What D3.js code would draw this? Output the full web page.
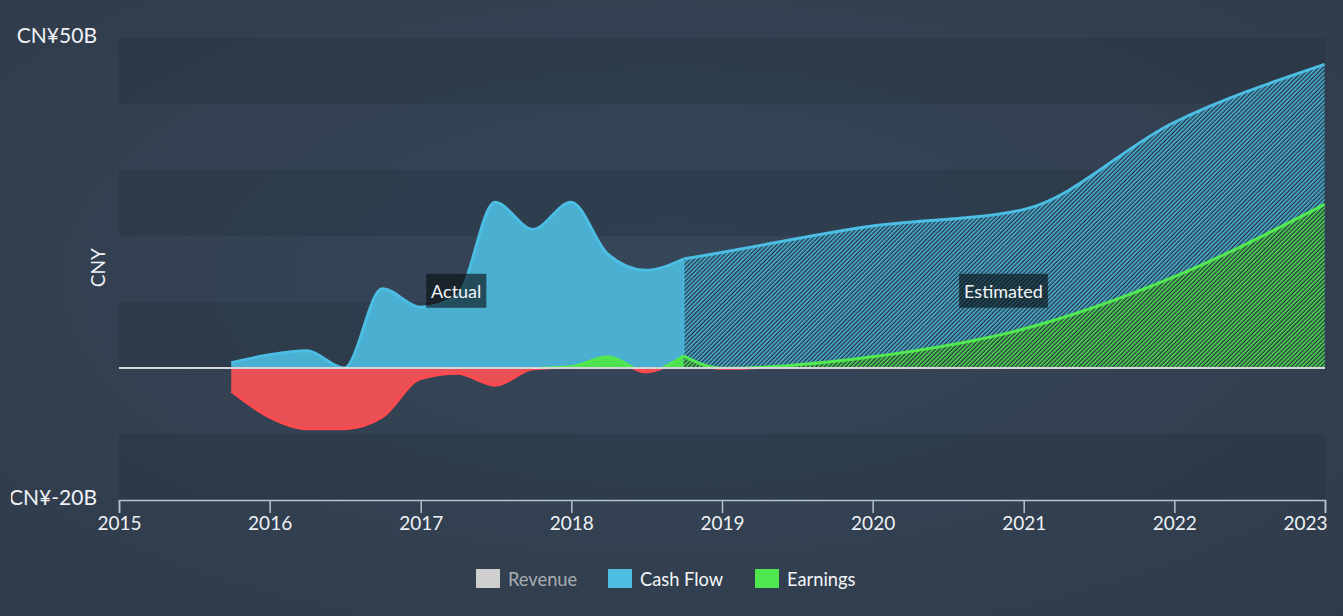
<!DOCTYPE html>
<html>
<head>
<meta charset="utf-8">
<script src="https://cdn.jsdelivr.net/npm/d3@7"></script>
<style>
  html, body { margin: 0; padding: 0; background: #333f4f; }
  svg { display: block; font-family: "Lato", "DejaVu Sans", sans-serif; }
</style>
</head>
<body>
<div id="chartDiv"></div>
<script>
// quarterly actuals (CNY billions)
const actualDates = ["2015-09-30", "2015-12-31", "2016-03-31", "2016-06-30", "2016-09-30", "2016-12-31",
                     "2017-03-31", "2017-06-30", "2017-09-30", "2017-12-31", "2018-03-31", "2018-06-30", "2018-09-30"];
const cashFlowActual = [0.8, 2.0, 2.6, 0.0, 12.0, 9.2, 11.0, 25.1, 21.0, 25.1, 17.2, 14.8, 16.5];
const earningsActual = [-3.5, -7.4, -9.2, -9.2, -7.4, -1.6, -0.8, -2.6, -0.1, 0.2, 1.7, -0.6, 1.8];

// analyst estimates
const estimateDates = ["2018-09-30", "2018-12-31", "2019-12-31", "2020-12-31", "2021-12-31", "2022-12-31"];
const cashFlowEstimate = [16.5, 17.5, 21.5, 24.0, 37.2, 46.0];
const earningsEstimate = [1.8, -0.05, 1.7, 5.9, 13.8, 24.8];

const yearTicks = [2015, 2016, 2017, 2018, 2019, 2020, 2021, 2022, 2023];
const yTickValues = [50, -20];
const legendNames = ["Revenue", "Cash Flow", "Earnings"];
const legendColors = ["#cfcfcf", "#4dbde2", "#50e650"];

const chartWidth = 1343, chartHeight = 616;
const plotLeft = 119, plotRight = 1325, plotTop = 38, plotBottom = 500;

const parseDate = d3.timeParse("%Y-%m-%d");

let svg = d3.select("#chartDiv").append("svg")
    .attr("width", chartWidth)
    .attr("height", chartHeight);

let defs = svg.append("defs");

// background with a soft vignette
let bg = defs.append("radialGradient").attr("id", "bgGrad")
    .attr("cx", "50%").attr("cy", "45%").attr("r", "75%");
bg.append("stop").attr("offset", "0%").attr("stop-color", "#36475a");
bg.append("stop").attr("offset", "100%").attr("stop-color", "#303b4a");
svg.append("rect").attr("width", chartWidth).attr("height", chartHeight).attr("fill", "url(#bgGrad)");

function hatch(id, color) {
    let p = defs.append("pattern").attr("id", id)
        .attr("patternUnits", "userSpaceOnUse")
        .attr("width", 3).attr("height", 3)
        .attr("patternTransform", "rotate(45)");
    p.append("rect").attr("width", 3).attr("height", 3).attr("fill", "#283442");
    p.append("rect").attr("width", 1.6).attr("height", 3).attr("fill", color);
}
hatch("hatchBlue", "#4ab6da");
hatch("hatchGreen", "#4fe04f");
hatch("hatchRed", "#e85055");

let xScale = d3.scaleTime()
    .domain([new Date(2015, 0, 1), new Date(2023, 0, 1)])
    .range([plotLeft, plotRight]);

let yScale = d3.scaleLinear()
    .domain([-20, 50])
    .range([plotBottom, plotTop]);

let zeroY = yScale(0);

// horizontal bands every 10B
let bands = d3.range(-20, 50, 10);
svg.append("g").selectAll("rect")
    .data(bands)
    .enter().append("rect")
    .attr("x", plotLeft)
    .attr("width", plotRight - plotLeft)
    .attr("y", d => yScale(d + 10))
    .attr("height", d => yScale(d) - yScale(d + 10))
    .attr("fill", (d, i) => i % 2 == 0 ? "rgba(20,28,40,0.16)" : "rgba(0,0,0,0)");

let actual = actualDates.map((d, i) => ({date: parseDate(d), cash: cashFlowActual[i], earn: earningsActual[i]}));
let estimate = estimateDates.map((d, i) => ({date: parseDate(d), cash: cashFlowEstimate[i], earn: earningsEstimate[i]}));

let splitX = xScale(parseDate(estimateDates[0]));

// clip paths: above / below zero
defs.append("clipPath").attr("id", "clipPos")
    .append("rect").attr("x", 0).attr("y", 0).attr("width", chartWidth).attr("height", zeroY);
defs.append("clipPath").attr("id", "clipNeg")
    .append("rect").attr("x", 0).attr("y", zeroY).attr("width", chartWidth).attr("height", chartHeight - zeroY);

// earnings stroke gradient switching colour at zero
let eg = defs.append("linearGradient").attr("id", "earnStroke")
    .attr("gradientUnits", "userSpaceOnUse")
    .attr("x1", 0).attr("x2", 0).attr("y1", 0).attr("y2", chartHeight);
eg.append("stop").attr("offset", zeroY / chartHeight).attr("stop-color", "#52e852");
eg.append("stop").attr("offset", zeroY / chartHeight).attr("stop-color", "#ff4b50");

let cashArea = d3.area()
    .curve(d3.curveMonotoneX)
    .x(d => xScale(d.date))
    .y0(zeroY)
    .y1(d => yScale(d.cash));
let cashLine = d3.line()
    .curve(d3.curveMonotoneX)
    .x(d => xScale(d.date))
    .y(d => yScale(d.cash));
let earnArea = d3.area()
    .curve(d3.curveMonotoneX)
    .x(d => xScale(d.date))
    .y0(zeroY)
    .y1(d => yScale(d.earn));
let earnLine = d3.line()
    .curve(d3.curveMonotoneX)
    .x(d => xScale(d.date))
    .y(d => yScale(d.earn));

let plot = svg.append("g");

// cash flow
plot.append("path").datum(actual).attr("d", cashArea).attr("fill", "#4aafd1");
plot.append("path").datum(estimate).attr("d", cashArea).attr("fill", "url(#hatchBlue)");
plot.append("line")
    .attr("x1", splitX).attr("x2", splitX)
    .attr("y1", zeroY).attr("y2", yScale(cashFlowEstimate[0]))
    .attr("stroke", "#4ab8de").attr("stroke-width", 1.5);
plot.append("path").datum(actual).attr("d", cashLine)
    .attr("fill", "none").attr("stroke", "#4cbde3").attr("stroke-width", 3);
plot.append("path").datum(estimate).attr("d", cashLine)
    .attr("fill", "none").attr("stroke", "#4cbde3").attr("stroke-width", 3);

// earnings
plot.append("path").datum(actual).attr("d", earnArea)
    .attr("clip-path", "url(#clipPos)").attr("fill", "#4fe04f");
plot.append("path").datum(actual).attr("d", earnArea)
    .attr("clip-path", "url(#clipNeg)").attr("fill", "#e85055");
plot.append("path").datum(estimate).attr("d", earnArea)
    .attr("clip-path", "url(#clipPos)").attr("fill", "url(#hatchGreen)");
plot.append("path").datum(estimate).attr("d", earnArea)
    .attr("clip-path", "url(#clipNeg)").attr("fill", "url(#hatchRed)");
plot.append("path").datum(actual).attr("d", earnLine)
    .attr("fill", "none").attr("stroke", "url(#earnStroke)").attr("stroke-width", 3);
plot.append("path").datum(estimate).attr("d", earnLine)
    .attr("fill", "none").attr("stroke", "url(#earnStroke)").attr("stroke-width", 3);

// zero line
svg.append("line")
    .attr("x1", plotLeft).attr("x2", plotRight)
    .attr("y1", zeroY).attr("y2", zeroY)
    .attr("stroke", "#d4d6d9").attr("stroke-width", 2);

// x axis
let xAxis = d3.axisBottom(xScale)
    .tickValues(yearTicks.map(y => new Date(y, 0, 1)))
    .tickFormat(d3.timeFormat("%Y"))
    .tickSize(13)
    .tickPadding(4);
let xg = svg.append("g")
    .attr("transform", "translate(0," + plotBottom + ")")
    .call(xAxis);
xg.select(".domain").attr("stroke", "#b4c3d1").attr("stroke-width", 1.5);
xg.selectAll(".tick line").attr("stroke", "#b4c3d1").attr("stroke-width", 1.5);
xg.selectAll(".tick text")
    .attr("fill", "#eef2f6")
    .attr("font-size", 19)
    .attr("font-family", "Lato, sans-serif");
// keep the last year inside the picture
xg.selectAll(".tick text")
    .filter((d, i, n) => i == n.length - 1)
    .attr("text-anchor", "end")
    .attr("x", 2);

// y labels (left edge clipped like the original)
defs.append("clipPath").attr("id", "clipLabels")
    .append("rect").attr("x", 11).attr("y", 0).attr("width", 200).attr("height", chartHeight);
svg.append("g").attr("clip-path", "url(#clipLabels)")
    .selectAll("text")
    .data(yTickValues)
    .enter().append("text")
    .attr("x", 97)
    .attr("y", d => yScale(d) - 4)
    .attr("text-anchor", "end")
    .attr("dominant-baseline", "central")
    .attr("fill", "#eef2f6")
    .attr("font-size", 21)
    .text(d => "CN¥" + d + "B");

svg.append("text")
    .attr("transform", "translate(97," + yScale(15.2) + ") rotate(-90)")
    .attr("text-anchor", "middle")
    .attr("dominant-baseline", "central")
    .attr("fill", "#eef2f6")
    .attr("font-size", 19)
    .text("CNY");

// Actual / Estimated tags
const tagNames = ["Actual", "Estimated"];
const tagDates = ["2017-03-28", "2020-11-13"];
let tags = svg.append("g").selectAll("g")
    .data(tagNames)
    .enter().append("g")
    .attr("transform", (d, i) => "translate(" + xScale(parseDate(tagDates[i])) + "," + yScale(11.7) + ")");
tags.append("text")
    .attr("text-anchor", "middle")
    .attr("dominant-baseline", "central")
    .attr("fill", "#f2f4f6")
    .attr("font-size", 18)
    .text(d => d)
    .each(function() {
        let bb = this.getBBox();
        d3.select(this.parentNode).insert("rect", "text")
            .attr("x", bb.x - 5).attr("y", -17)
            .attr("width", bb.width + 10).attr("height", 34)
            .attr("fill", "rgb(10,14,18)").attr("fill-opacity", 0.62);
    });

// legend
let legend = svg.append("g").attr("transform", "translate(476,579)");
let legendX = [0, 132, 279];
let items = legend.selectAll("g")
    .data(legendNames)
    .enter().append("g")
    .attr("transform", (d, i) => "translate(" + legendX[i] + ",0)");
items.append("rect")
    .attr("x", 0).attr("y", -10)
    .attr("width", 24).attr("height", 19)
    .attr("fill", (d, i) => legendColors[i]);
items.append("text")
    .attr("x", 32).attr("y", 0)
    .attr("dominant-baseline", "central")
    .attr("font-size", 18.3)
    .attr("fill", (d, i) => i == 0 ? "#a9adb2" : "#f4f6f8")
    .text(d => d);
</script>
</body>
</html>
